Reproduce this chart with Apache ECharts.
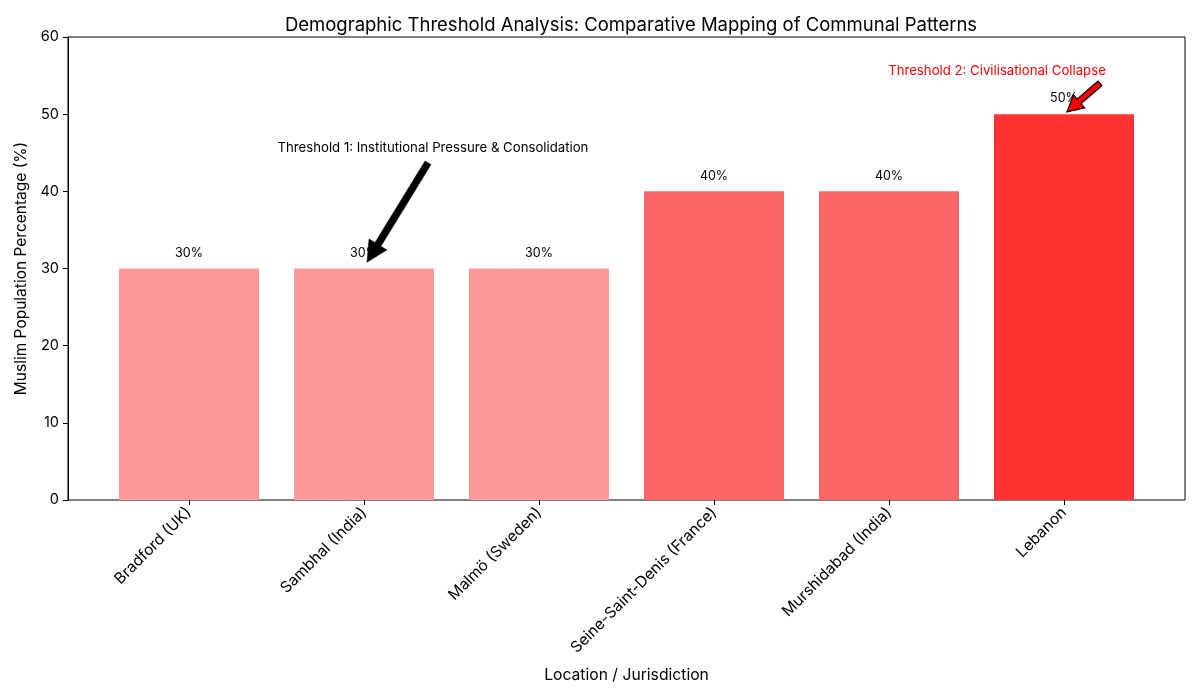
<!DOCTYPE html>
<html>
<head>
<meta charset="utf-8">
<script src="https://cdn.jsdelivr.net/npm/echarts@6/dist/echarts.min.js"></script>
<style>
  html, body { margin: 0; padding: 0; background: #fff; }
  #chart { width: 1200px; height: 700px; }
</style>
</head>
<body>
<div id="chart"></div>
<script>
const categories = ['Bradford (UK)', 'Sambhal (India)', 'Malmö (Sweden)', 'Seine-Saint-Denis (France)', 'Murshidabad (India)', 'Lebanon'];
const percentages = [30, 30, 30, 40, 40, 50];
const barColors = ['#ff9999', '#ff9999', '#ff9999', '#ff6666', '#ff6666', '#ff3333'];
const yTicks = [0, 10, 20, 30, 40, 50, 60];

// annotation anchors in data units (category index, percent)
const notes = [
    { text: 'Threshold 1: Institutional Pressure & Consolidation', at: [1.394, 45.6], tail: [1.366, 43.7], tip: [1.017, 30.8], color: '#000', fill: '#000', stroke: null, shaft: 7, headW: 21, headL: 21 },
    { text: 'Threshold 2: Civilisational Collapse', at: [4.617, 55.6], tail: [5.206, 54.0], tip: [5.017, 50.3], color: '#ff0000', fill: '#ff0000', stroke: '#000', shaft: 6, headW: 17, headL: 16 }
];

const FONT = 'Inter, "Noto Sans", sans-serif';

document.addEventListener('DOMContentLoaded', function() {
    const chart = echarts.init(document.getElementById('chart'));

    const option = {
        animation: false,
        title: {
            text: 'Demographic Threshold Analysis: Comparative Mapping of Communal Patterns',
            left: 626, top: 11, textAlign: 'center',
            textStyle: { fontFamily: FONT, fontSize: 18.5, fontWeight: 'normal', color: '#000' }
        },
        grid: [
            { left: 68, right: 15, top: 37, bottom: 200, show: true, borderColor: '#000', borderWidth: 1, backgroundColor: 'transparent' },
            { left: 101.5, right: 48.5, top: 37, bottom: 200 }
        ],
        xAxis: [
            {
                type: 'value', gridIndex: 0, min: 0, max: 1,
                axisLine: { show: false }, axisTick: { show: false }, axisLabel: { show: false }, splitLine: { show: false },
                name: 'Location / Jurisdiction', nameLocation: 'middle', nameGap: 167,
                nameTextStyle: { fontFamily: FONT, fontSize: 15.7, color: '#000' }
            },
            {
                type: 'category', gridIndex: 1, data: categories,
                axisLine: { show: false },
                axisTick: { show: true, alignWithLabel: true, length: 5, lineStyle: { color: '#000' } },
                axisLabel: { rotate: 45, fontFamily: FONT, fontSize: 15.5, color: '#000', margin: 10, interval: 0 }
            }
        ],
        yAxis: [
            {
                type: 'value', gridIndex: 0, min: 0, max: 60, interval: 10,
                axisLine: { show: true, lineStyle: { color: '#000' } },
                axisTick: { show: true, length: 5, lineStyle: { color: '#000' } },
                axisLabel: { fontFamily: FONT, fontSize: 14.5, color: '#000', margin: 9, formatter: v => yTicks.includes(v) ? String(v) : '' },
                splitLine: { show: false },
                name: 'Muslim Population Percentage (%)', nameLocation: 'middle', nameGap: 36,
                nameTextStyle: { fontFamily: FONT, fontSize: 15.5, color: '#000' }
            },
            { type: 'value', gridIndex: 1, min: 0, max: 60, show: false }
        ],
        series: [{
            type: 'bar', xAxisIndex: 1, yAxisIndex: 1,
            barWidth: 140,
            data: percentages.map((v, i) => ({ value: v, itemStyle: { color: barColors[i] } })),
            label: {
                show: true, position: 'top', distance: 9,
                formatter: p => p.value + '%',
                fontFamily: FONT, fontSize: 12.5, color: '#000'
            }
        }]
    };
    chart.setOption(option);

    // map a fractional category position to pixels using the axis itself
    function toPx(pt) {
        const i0 = Math.floor(pt[0]);
        const a = chart.convertToPixel({ xAxisIndex: 1, yAxisIndex: 1 }, [i0, pt[1]]);
        const b = chart.convertToPixel({ xAxisIndex: 1, yAxisIndex: 1 }, [i0 + 1 < categories.length ? i0 + 1 : i0 - 1, pt[1]]);
        const step = i0 + 1 < categories.length ? b[0] - a[0] : a[0] - b[0];
        return [a[0] + (pt[0] - i0) * step, a[1]];
    }

    function arrowPoints(tail, tip, s, w, h) {
        const dx = tip[0] - tail[0], dy = tip[1] - tail[1];
        const L = Math.hypot(dx, dy);
        const ux = dx / L, uy = dy / L, nx = -uy, ny = ux;
        const neck = [tip[0] - ux * h, tip[1] - uy * h];
        return [
            [tail[0] + nx * s / 2, tail[1] + ny * s / 2],
            [neck[0] + nx * s / 2, neck[1] + ny * s / 2],
            [neck[0] + nx * w / 2, neck[1] + ny * w / 2],
            tip,
            [neck[0] - nx * w / 2, neck[1] - ny * w / 2],
            [neck[0] - nx * s / 2, neck[1] - ny * s / 2],
            [tail[0] - nx * s / 2, tail[1] - ny * s / 2]
        ];
    }

    const graphics = [];
    notes.forEach(n => {
        const at = toPx(n.at);
        graphics.push({
            type: 'text', x: at[0], y: at[1], z: 100,
            style: { text: n.text, fill: n.color, font: '13.2px ' + FONT, textAlign: 'center', textVerticalAlign: 'middle' }
        });
        graphics.push({
            type: 'polygon', z: 100,
            shape: { points: arrowPoints(toPx(n.tail), toPx(n.tip), n.shaft, n.headW, n.headL) },
            style: { fill: n.fill, stroke: n.stroke || n.fill, lineWidth: n.stroke ? 1.2 : 0.5, lineJoin: 'miter' }
        });
    });
    chart.setOption({ graphic: graphics });
});
</script>
</body>
</html>
